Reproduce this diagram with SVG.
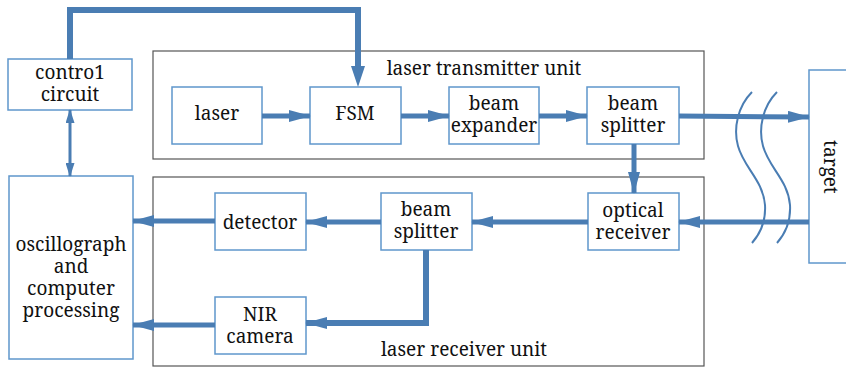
<svg xmlns="http://www.w3.org/2000/svg" width="846" height="368" viewBox="0 0 846 368" font-family="'Noto Serif', 'Liberation Serif', serif">
<style>
.unit{fill:none;stroke:#555;stroke-width:1.2}
.node{fill:#fff;stroke:#5f97cc;stroke-width:1.5}
.t{font-size:19px;fill:#111;text-anchor:middle}
.c{fill:none;stroke:#4a7db3;stroke-width:5}
.cw{fill:none;stroke:#4a7db3;stroke-width:6}
.thin{fill:none;stroke:#4a7db3;stroke-width:3}
.wave{fill:none;stroke:#4a7db3;stroke-width:2}
</style>
<defs>
<marker id="ah" markerUnits="userSpaceOnUse" markerWidth="22" markerHeight="12" refX="21" refY="6" orient="auto">
<path d="M0,0 L22,6 L0,12 z" fill="#4a7db3"/>
</marker>
<marker id="as" markerUnits="userSpaceOnUse" markerWidth="14" markerHeight="9" refX="13" refY="4.5" orient="auto-start-reverse">
<path d="M0,0 L14,4.5 L0,9 z" fill="#4a7db3"/>
</marker>
</defs>
<g id="transmitter-unit"><rect class="unit" x="153" y="51" width="551" height="108"/><text class="t" x="484" y="75">laser transmitter unit</text></g>
<g id="receiver-unit"><rect class="unit" x="153" y="177" width="551" height="189"/><text class="t" x="464" y="356">laser receiver unit</text></g>
<g id="control"><rect class="node" x="8" y="59" width="124" height="51"/><text class="t" x="70" y="79">contro1</text><text class="t" x="70" y="101">circuit</text></g>
<g id="oscillograph"><rect class="node" x="9" y="176" width="124" height="183"/><text class="t" x="71" y="251">oscillograph</text><text class="t" x="71" y="273">and</text><text class="t" x="71" y="295">computer</text><text class="t" x="71" y="317">processing</text></g>
<g id="laser"><rect class="node" x="172" y="87" width="90" height="57"/><text class="t" x="217" y="120">laser</text></g>
<g id="fsm"><rect class="node" x="310" y="87" width="91" height="57"/><text class="t" x="355" y="120">FSM</text></g>
<g id="expander"><rect class="node" x="449" y="87" width="90" height="57"/><text class="t" x="494" y="110">beam</text><text class="t" x="494" y="132">expander</text></g>
<g id="splitter1"><rect class="node" x="587" y="87" width="92" height="57"/><text class="t" x="633" y="110">beam</text><text class="t" x="633" y="132">splitter</text></g>
<g id="target"><rect class="node" x="809" y="70" width="50" height="193"/><text class="t" transform="translate(824,167) rotate(90)">target</text></g>
<g id="receiver"><rect class="node" x="588" y="193" width="91" height="57"/><text class="t" x="633" y="217">optical</text><text class="t" x="633" y="239">receiver</text></g>
<g id="splitter2"><rect class="node" x="381" y="193" width="91" height="57"/><text class="t" x="426" y="216">beam</text><text class="t" x="426" y="238">splitter</text></g>
<g id="detector"><rect class="node" x="215" y="193" width="91" height="57"/><text class="t" x="260" y="229">detector</text></g>
<g id="nir"><rect class="node" x="215" y="297" width="91" height="57"/><text class="t" x="260" y="321">NIR</text><text class="t" x="260" y="343">camera</text></g>
<g id="connectors">
<path class="cw" d="M70,59 V10 H358 V68" stroke="#5b93cb"/>
<path d="M351,66 L365,66 L358,87 z" fill="#4a7db3"/>
<line class="c" x1="262" y1="116" x2="310" y2="116" marker-end="url(#ah)"/>
<line class="c" x1="401" y1="116" x2="449" y2="116" marker-end="url(#ah)"/>
<line class="c" x1="539" y1="116" x2="587" y2="116" marker-end="url(#ah)"/>
<line class="c" x1="679" y1="116" x2="809" y2="117" marker-end="url(#ah)"/>
<line class="c" x1="634" y1="144" x2="634" y2="193" marker-end="url(#ah)"/>
<line class="c" x1="809" y1="222" x2="679" y2="222" marker-end="url(#ah)"/>
<line class="c" x1="588" y1="222" x2="472" y2="222" marker-end="url(#ah)"/>
<line class="c" x1="381" y1="222" x2="306" y2="222" marker-end="url(#ah)"/>
<line class="c" x1="215" y1="221" x2="133" y2="221" marker-end="url(#ah)"/>
<path class="cw" d="M426,250 V323 H306" marker-end="url(#ah)"/>
<line class="c" x1="215" y1="325" x2="133" y2="325" marker-end="url(#ah)"/>
<line class="thin" x1="70" y1="110" x2="70" y2="176" marker-start="url(#as)" marker-end="url(#as)"/>
<path class="wave" d="M752,92 C738,106 733,128 738,146 C744,168 763,180 765,205 C766,222 760,234 752,243"/>
<path class="wave" d="M777,92 C763,106 758,128 763,146 C769,168 788,180 790,205 C791,222 785,234 777,243"/>
</g>
</svg>
